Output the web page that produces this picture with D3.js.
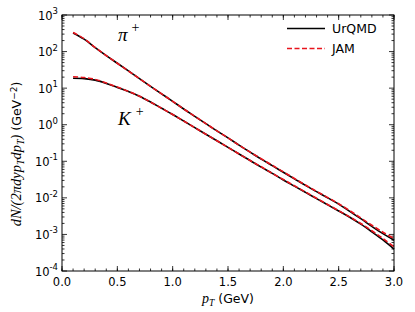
<!DOCTYPE html>
<html>
<head>
<meta charset="utf-8">
<script src="https://cdn.jsdelivr.net/npm/d3@7"></script>
<style>
    body { margin: 0; background: #fff; }
    svg { display: block; }
    .tick-label { font-family: "DejaVu Sans", sans-serif; font-size: 11.5px; fill: #000; }
    .math { font-family: "Liberation Serif", "DejaVu Serif", serif; font-style: italic; }
</style>
</head>
<body>
<svg width="415" height="312"></svg>
<script>
// pT grid (GeV)
var pt = [0.1, 0.2, 0.3, 0.4, 0.5, 0.6, 0.7, 0.8, 0.9, 1.0,
          1.1, 1.2, 1.3, 1.4, 1.5, 1.6, 1.7, 1.8, 1.9, 2.0,
          2.1, 2.2, 2.3, 2.4, 2.5, 2.6, 2.7, 2.8, 2.9, 3.0];

// log10 of dN/(2pi dy pT dpT)
var piUrqmd = [2.51, 2.34, 2.11, 1.89, 1.68, 1.47, 1.26, 1.05, 0.845, 0.64,
               0.43, 0.23, 0.03, -0.17, -0.36, -0.56, -0.75, -0.94, -1.12, -1.30,
               -1.48, -1.66, -1.83, -2.00, -2.17, -2.37, -2.57, -2.78, -2.98, -3.16];
var piJam = [2.52, 2.35, 2.11, 1.89, 1.68, 1.47, 1.26, 1.05, 0.845, 0.64,
             0.43, 0.23, 0.03, -0.17, -0.36, -0.56, -0.75, -0.93, -1.11, -1.29,
             -1.47, -1.65, -1.82, -1.99, -2.16, -2.35, -2.55, -2.75, -2.94, -3.11];
var kUrqmd = [1.27, 1.26, 1.22, 1.13, 1.02, 0.91, 0.78, 0.62, 0.45, 0.28,
              0.10, -0.08, -0.26, -0.44, -0.62, -0.80, -0.98, -1.16, -1.33, -1.51,
              -1.68, -1.85, -2.02, -2.19, -2.36, -2.53, -2.72, -2.93, -3.15, -3.40];
var kJam = [1.31, 1.29, 1.24, 1.14, 1.03, 0.91, 0.78, 0.62, 0.45, 0.28,
            0.10, -0.08, -0.26, -0.44, -0.62, -0.80, -0.98, -1.15, -1.33, -1.50,
            -1.67, -1.84, -2.01, -2.18, -2.35, -2.52, -2.70, -2.90, -3.11, -3.34];

var xTicks = [0.0, 0.5, 1.0, 1.5, 2.0, 2.5, 3.0];
var yExponents = [-4, -3, -2, -1, 0, 1, 2, 3];

(function () {
    var svg = d3.select('svg');
    var margin = {left: 62, right: 21, top: 15, bottom: 41};
    var width = 415 - margin.left - margin.right;
    var height = 312 - margin.top - margin.bottom;

    var x = d3.scaleLinear().domain([0, 3]).range([0, width]);
    var y = d3.scaleLog().domain([1e-4, 1e3]).range([height, 0]);

    var g = svg.append('g')
        .attr('transform', 'translate(' + margin.left + ',' + margin.top + ')');

    // ticks pointing inward on all four sides
    var minorX = d3.range(0, 3.001, 0.1);
    var minorY = [];
    yExponents.slice(0, -1).forEach(function (e) {
        for (var m = 2; m < 10; m++) minorY.push(m * Math.pow(10, e));
    });

    function tickLines(vals, len, horizontal) {
        vals.forEach(function (v) {
            if (horizontal) {
                var px = x(v);
                g.append('line').attr('x1', px).attr('x2', px).attr('y1', height).attr('y2', height - len);
                g.append('line').attr('x1', px).attr('x2', px).attr('y1', 0).attr('y2', len);
            } else {
                var py = y(v);
                g.append('line').attr('x1', 0).attr('x2', len).attr('y1', py).attr('y2', py);
                g.append('line').attr('x1', width).attr('x2', width - len).attr('y1', py).attr('y2', py);
            }
        });
    }
    tickLines(minorX, 2.5, true);
    tickLines(xTicks, 5, true);
    tickLines(minorY, 2.5, false);
    tickLines(yExponents.map(function (e) { return Math.pow(10, e); }), 5, false);
    g.selectAll('line').attr('stroke', '#000').attr('stroke-width', 0.8);

    // tick labels
    g.selectAll('.xl')
        .data(xTicks)
        .enter()
        .append('text')
        .attr('class', 'tick-label')
        .attr('x', function (d) { return x(d); })
        .attr('y', height + 14.5)
        .attr('text-anchor', 'middle')
        .text(function (d) { return d.toFixed(1); });

    var yl = g.selectAll('.yl')
        .data(yExponents)
        .enter()
        .append('text')
        .attr('class', 'tick-label')
        .attr('x', -4)
        .attr('y', function (d) { return y(Math.pow(10, d)) + 4.5; })
        .attr('text-anchor', 'end');
    yl.append('tspan').text('10');
    yl.append('tspan')
        .attr('dy', -5.5)
        .style('font-size', '8.5px')
        .text(function (d) { return d; });

    // curves
    var line = d3.line()
        .x(function (d) { return x(d[0]); })
        .y(function (d) { return y(Math.pow(10, d[1])); })
        .curve(d3.curveCatmullRom.alpha(0.5));

    var series = [
        {vals: piUrqmd, color: '#000', dash: null},
        {vals: kUrqmd, color: '#000', dash: null},
        {vals: piJam, color: '#e8141c', dash: '5,2.5'},
        {vals: kJam, color: '#e8141c', dash: '5,2.5'}
    ];
    series.forEach(function (s) {
        g.append('path')
            .datum(d3.zip(pt, s.vals))
            .attr('d', line)
            .attr('fill', 'none')
            .attr('stroke', s.color)
            .attr('stroke-width', 1.6)
            .attr('stroke-dasharray', s.dash);
    });

    // frame
    g.append('rect')
        .attr('width', width)
        .attr('height', height)
        .attr('fill', 'none')
        .attr('stroke', '#000')
        .attr('stroke-width', 1);

    // particle labels
    var piLabel = g.append('text').attr('x', 56).attr('y', 26).style('font-size', '19px');
    piLabel.append('tspan').attr('class', 'math').text('π');
    piLabel.append('tspan').attr('dx', 4).attr('dy', -9).style('font-size', '14px')
        .style('font-family', 'Liberation Serif, serif').text('+');
    var kLabel = g.append('text').attr('x', 56).attr('y', 110).style('font-size', '19px');
    kLabel.append('tspan').attr('class', 'math').text('K');
    kLabel.append('tspan').attr('dx', 5).attr('dy', -9).style('font-size', '14px')
        .style('font-family', 'Liberation Serif, serif').text('+');

    // legend
    var legend = [
        {name: 'UrQMD', color: '#000', dash: null},
        {name: 'JAM', color: '#e8141c', dash: '5,2.5'}
    ];
    legend.forEach(function (d, i) {
        var ly = 13.5 + i * 20;
        g.append('line')
            .attr('x1', 225).attr('x2', 263)
            .attr('y1', ly).attr('y2', ly)
            .attr('stroke', d.color)
            .attr('stroke-width', 1.6)
            .attr('stroke-dasharray', d.dash);
        g.append('text')
            .attr('class', 'tick-label')
            .attr('x', 270)
            .attr('y', ly + 4.5)
            .style('font-size', '12.5px')
            .text(d.name);
    });

    // axis titles
    var xt = svg.append('text')
        .attr('x', 228)
        .attr('y', 303)
        .attr('text-anchor', 'middle')
        .attr('class', 'tick-label')
        .style('font-size', '12.5px');
    xt.append('tspan').attr('class', 'math').style('font-size', '14px').text('p');
    xt.append('tspan').attr('class', 'math').attr('dy', 2.5).style('font-size', '9.5px').text('T');
    xt.append('tspan').attr('dy', -2.5).text(' (GeV)');

    var yt = svg.append('text')
        .attr('transform', 'translate(21,154) rotate(-90)')
        .attr('text-anchor', 'middle')
        .attr('class', 'tick-label')
        .style('font-size', '12.5px');
    yt.append('tspan').attr('class', 'math').style('font-size', '14.5px').text('dN/(2πdyp');
    yt.append('tspan').attr('class', 'math').attr('dy', 2.5).style('font-size', '10px').text('T');
    yt.append('tspan').attr('class', 'math').attr('dy', -2.5).style('font-size', '14.5px').text('dp');
    yt.append('tspan').attr('class', 'math').attr('dy', 2.5).style('font-size', '10px').text('T');
    yt.append('tspan').attr('class', 'math').attr('dy', -2.5).style('font-size', '14.5px').text(')');
    yt.append('tspan').text(' (GeV');
    yt.append('tspan').attr('dy', -4.5).style('font-size', '9px').text('−2');
    yt.append('tspan').attr('dy', 4.5).text(')');
}());
</script>
</body>
</html>
